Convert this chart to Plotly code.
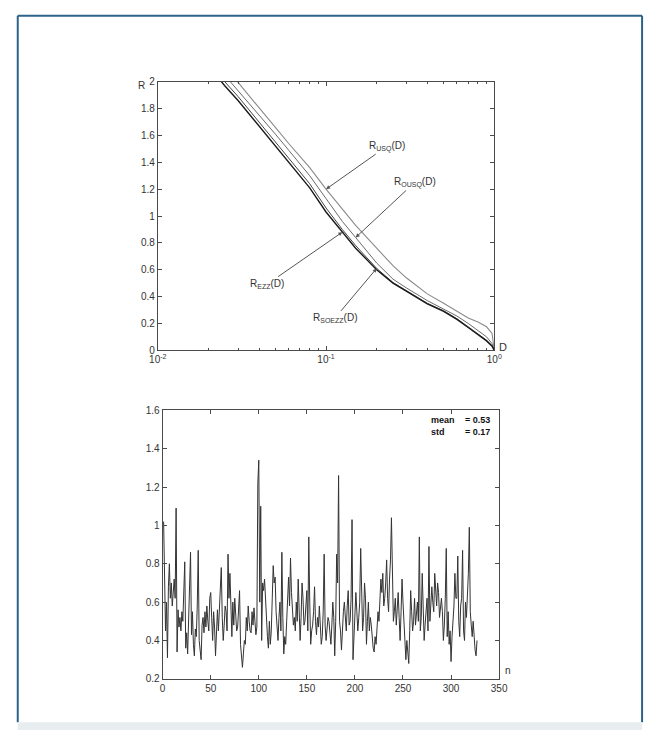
import math
import plotly.graph_objects as go

# ---------------- data: top panel (R versus D) ----------------
D_grid = [0.02, 0.025, 0.03, 0.04, 0.05, 0.06, 0.08, 0.1, 0.125, 0.15, 0.2, 0.25,
          0.3, 0.4, 0.5, 0.6, 0.7, 0.8, 0.9, 0.97, 1.0]
R_usq = [2.26, 2.12, 1.995, 1.81, 1.66, 1.54, 1.36, 1.20, 1.05, 0.93, 0.76, 0.63,
         0.54, 0.42, 0.35, 0.29, 0.24, 0.21, 0.175, 0.125, 0.0]
R_ousq = [2.19, 2.05, 1.93, 1.75, 1.61, 1.49, 1.30, 1.13, 0.96, 0.84, 0.65, 0.53,
          0.465, 0.37, 0.31, 0.255, 0.20, 0.15, 0.10, 0.05, 0.0]
R_soezz = [2.15, 2.00, 1.89, 1.70, 1.55, 1.43, 1.24, 1.06, 0.90, 0.78, 0.61, 0.505,
           0.445, 0.35, 0.295, 0.235, 0.175, 0.125, 0.075, 0.035, 0.0]
R_ezz = [2.12, 1.97, 1.86, 1.67, 1.52, 1.40, 1.21, 1.03, 0.88, 0.76, 0.60, 0.50,
         0.44, 0.345, 0.29, 0.23, 0.17, 0.12, 0.07, 0.03, 0.0]

top_xticks = [0.01, 0.1, 1]
top_xticktext = ["10<sup>-2</sup>", "10<sup>-1</sup>", "10<sup>0</sup>"]
top_minor = [0.02, 0.03, 0.04, 0.05, 0.06, 0.07, 0.08, 0.09,
             0.2, 0.3, 0.4, 0.5, 0.6, 0.7, 0.8, 0.9]

# ---------------- data: bottom panel (series over n) ----------------
series = [
    1.02, 0.62, 0.45, 0.60, 0.31, 0.68, 0.80, 0.62, 0.70, 0.58,
    0.66, 0.72, 0.62, 1.09, 0.34, 0.56, 0.47, 0.52, 0.45, 0.55,
    0.50, 0.65, 0.81, 0.36, 0.44, 0.33, 0.52, 0.66, 0.86, 0.43,
    0.55, 0.38, 0.32, 0.46, 0.42, 0.58, 0.87, 0.40, 0.35, 0.30,
    0.48, 0.52, 0.44, 0.55, 0.47, 0.58, 0.50, 0.45, 0.62, 0.65,
    0.52, 0.40, 0.55, 0.47, 0.32, 0.50, 0.56, 0.45, 0.55, 0.62,
    0.78, 0.52, 0.40, 0.48, 0.58, 0.55, 0.45, 0.85, 0.62, 0.75,
    0.50, 0.42, 0.60, 0.48, 0.62, 0.55, 0.45, 0.47, 0.58, 0.66,
    0.38, 0.30, 0.26, 0.33, 0.40, 0.38, 0.52, 0.45, 0.58, 0.50,
    0.45, 0.44, 0.55, 0.48, 0.57, 0.50, 0.43, 0.47, 1.22, 1.34,
    0.60, 1.10, 0.40, 0.70, 0.66, 0.72, 0.60, 0.48, 0.42, 0.36,
    0.50, 0.38, 0.45, 0.62, 0.79, 0.70, 0.73, 0.55, 0.48, 0.40,
    0.52, 0.60, 0.45, 0.86, 0.52, 0.33, 0.42, 0.38, 0.50, 0.62,
    0.73, 0.58, 0.83, 0.65, 0.55, 0.48, 0.52, 0.45, 0.60, 0.50,
    0.72, 0.55, 0.40, 0.52, 0.70, 0.62, 0.48, 0.50, 0.58, 0.66,
    0.45, 0.94, 0.60, 0.38, 0.45, 0.48, 0.55, 0.68, 0.50, 0.43,
    0.52, 0.47, 0.58, 0.45, 0.38, 0.42, 0.55, 0.85, 0.48, 0.40,
    0.45, 0.52, 0.50, 0.44, 0.38, 0.48, 0.60, 0.52, 0.32, 0.50,
    0.85, 0.70, 1.26, 0.50, 0.45, 0.35, 0.48, 0.55, 0.60, 0.52,
    0.45, 0.58, 0.66, 0.48, 0.50, 0.62, 1.03, 0.30, 0.42, 0.50,
    0.65, 0.55, 0.45, 0.52, 0.60, 0.88, 0.55, 0.45, 0.52, 0.70,
    0.62, 0.38, 0.50, 0.60, 0.45, 0.52, 0.48, 0.40, 0.36, 0.34,
    0.42, 0.38, 0.45, 0.55, 0.50, 0.60, 0.72, 0.65, 0.75, 0.58,
    0.62, 0.70, 0.82, 0.62, 0.55, 0.72, 0.82, 1.04, 0.60, 0.50,
    0.55, 0.62, 0.48, 0.58, 0.65, 0.52, 0.40, 0.55, 0.72, 0.60,
    0.48, 0.35, 0.30, 0.40, 0.35, 0.28, 0.45, 0.66, 0.55, 0.45,
    0.50, 0.62, 0.48, 0.55, 0.60, 0.50, 0.94, 0.45, 0.52, 0.75,
    0.62, 0.40, 0.48, 0.55, 0.62, 0.45, 0.89, 0.50, 0.58, 0.68,
    0.60, 0.55, 0.75, 0.62, 0.58, 0.70, 0.65, 0.52, 0.60, 0.62,
    0.55, 0.40, 0.48, 0.62, 0.88, 0.42, 0.55, 0.38, 0.45, 0.29,
    0.42, 0.50, 0.58, 0.75, 0.62, 0.62, 0.84, 0.50, 0.42, 0.58,
    0.62, 0.87, 0.45, 0.40, 0.60, 0.52, 0.62, 0.75, 0.99, 0.55,
    0.48, 0.42, 0.50, 0.38, 0.35, 0.32, 0.40,
]
n_index = list(range(1, len(series) + 1))
mean_text = "0.53"
std_text = "0.17"

W, H = 654, 736


def px(x):
    return x / W


def py(y):
    return 1 - y / H


FONT = "Liberation Sans, Arial, sans-serif"
axis_common = dict(showline=True, linecolor="#4a4a4a", linewidth=1, mirror="ticks",
                   ticks="inside", ticklen=4, tickcolor="#4a4a4a", showgrid=False,
                   zeroline=False, tickfont=dict(family=FONT, size=10, color="#333333"))

fig = go.Figure()
curve_styles = [
    ("USQ", R_usq, "#8a8a8a", 1.1),
    ("OUSQ", R_ousq, "#6a6a6a", 1.0),
    ("SOEZZ", R_soezz, "#444444", 1.0),
    ("EZZ", R_ezz, "#1a1a1a", 1.4),
]
for name, r, col, w in curve_styles:
    fig.add_trace(go.Scatter(x=D_grid, y=r, mode="lines", name=name,
                             line=dict(color=col, width=w), xaxis="x", yaxis="y",
                             showlegend=False, hoverinfo="skip"))

fig.add_trace(go.Scatter(x=n_index, y=series, mode="lines",
                         line=dict(color="#333333", width=1), xaxis="x2", yaxis="y2",
                         showlegend=False, hoverinfo="skip"))

fig.update_layout(
    width=W, height=H, margin=dict(l=0, r=0, t=0, b=0),
    paper_bgcolor="white", plot_bgcolor="white", showlegend=False,
    xaxis=dict(type="log", range=[-2, 0], domain=[px(153), px(499)], anchor="y",
               tickvals=top_xticks, ticktext=top_xticktext,
               minor=dict(tickvals=top_minor, ticks="inside", ticklen=2, tickcolor="#4a4a4a"),
               **axis_common),
    yaxis=dict(range=[0, 2], dtick=0.2, domain=[py(350), py(77)], anchor="x", **axis_common),
    xaxis2=dict(range=[0, 350], dtick=50, domain=[px(158), px(504)], anchor="y2", **axis_common),
    yaxis2=dict(range=[0.2, 1.6], dtick=0.2, domain=[py(684), py(411)], anchor="x2", **axis_common),
)

lab_font = dict(family=FONT, size=10, color="#333333")
# curve labels with leader arrows: (text, tip D, tip R, ax, ay)
labels = [
    ("R<sub>USQ</sub>(D)", D_grid[7], R_usq[7], 61, -43),
    ("R<sub>OUSQ</sub>(D)", D_grid[9], R_ousq[9], 59, -55),
    ("R<sub>EZZ</sub>(D)", D_grid[8], R_ezz[8], -75, 52),
    ("R<sub>SOEZZ</sub>(D)", D_grid[10], R_soezz[10], -42, 50),
]
for txt, d, r, ax, ay in labels:
    fig.add_annotation(x=math.log10(d), y=r, xref="x", yref="y", text=txt,
                       showarrow=True, ax=ax, ay=ay, arrowhead=2, arrowsize=0.8,
                       arrowwidth=1, arrowcolor="#555555", font=lab_font)

small = dict(family=FONT, size=10, color="#333333")
fig.add_annotation(x=px(131), y=py(73), xref="paper", yref="paper", text="R",
                   showarrow=False, font=small)
fig.add_annotation(x=px(514), y=py(347), xref="paper", yref="paper", text="D",
                   showarrow=False, font=dict(family=FONT, size=11, color="#333333"))
fig.add_annotation(x=px(518), y=py(683), xref="paper", yref="paper", text="n",
                   showarrow=False, font=small)

bold = dict(family=FONT, size=9, color="#111111")
fig.add_annotation(x=px(432), y=py(421), xref="paper", yref="paper", text="<b>mean</b>",
                   showarrow=False, xanchor="left", font=bold)
fig.add_annotation(x=px(432), y=py(433), xref="paper", yref="paper", text="<b>std</b>",
                   showarrow=False, xanchor="left", font=bold)
fig.add_annotation(x=px(497), y=py(421), xref="paper", yref="paper", text="<b>= " + mean_text + "</b>",
                   showarrow=False, xanchor="right", font=bold)
fig.add_annotation(x=px(497), y=py(433), xref="paper", yref="paper", text="<b>= " + std_text + "</b>",
                   showarrow=False, xanchor="right", font=bold)

frame_col = "#2d6388"
fig.add_shape(type="line", xref="paper", yref="paper", x0=px(9), x1=px(651), y0=py(10), y1=py(10),
              line=dict(color=frame_col, width=2))
fig.add_shape(type="line", xref="paper", yref="paper", x0=px(9), x1=px(9), y0=py(10), y1=py(728),
              line=dict(color=frame_col, width=2))
fig.add_shape(type="line", xref="paper", yref="paper", x0=px(651), x1=px(651), y0=py(10), y1=py(728),
              line=dict(color=frame_col, width=2))
fig.add_shape(type="rect", xref="paper", yref="paper", x0=px(9), x1=px(651), y0=0, y1=py(728),
              line=dict(width=0), fillcolor="#e8edf0")

fig.write_html("out.html", config={"displayModeBar": False, "staticPlot": True},
               post_script="document.body.style.margin='0';document.body.style.overflow='hidden';")
